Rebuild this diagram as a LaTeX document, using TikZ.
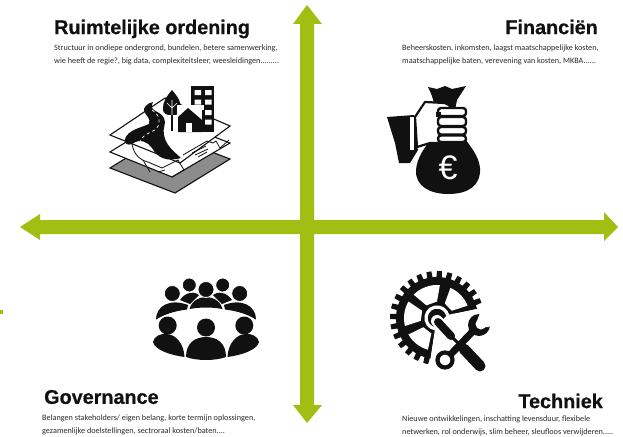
\documentclass[tikz,border=0pt]{standalone}
\usepackage{fontspec}
\setmainfont{Liberation Sans}
\newfontfamily\bodyfont{Carlito}
\newfontfamily\titlefont{Liberation Sans}[BoldFeatures={FakeBold=0.6}]
\definecolor{arrowgreen}{HTML}{A0BF12}
\definecolor{bodygrey}{HTML}{2A2A2A}
\definecolor{ink}{HTML}{111111}
\tikzset{
  greenarrow/.style={fill=arrowgreen,draw=none},
  headline/.style={font=\titlefont\fontsize{19.8}{21}\selectfont\bfseries,text=ink,inner sep=0pt},
  bodytext/.style={font=\bodyfont\fontsize{8.2}{13}\selectfont,text=bodygrey,inner sep=0pt,align=left},
  layerline/.style={draw=ink,line width=1.1pt,line join=miter},
  whitehalo/.style={draw=white,line cap=round},
  inkline/.style={draw=ink,line cap=round},
}
\begin{document}
\begin{tikzpicture}[x=1pt,y=-1pt]
\useasboundingbox (0,0) rectangle (623,436);
\fill[white] (0,0) rectangle (623,436);

% arrows
\fill[greenarrow] (300,220) -- (300,24) -- (293,24) -- (307,5) -- (322,24) -- (314,24) -- (314,220)
  -- (604,220) -- (604,212) -- (618,227) -- (604,241) -- (604,234)
  -- (314,234) -- (314,405) -- (322,405) -- (307,423) -- (293,405) -- (300,405) -- (300,234)
  -- (40,234) -- (40,240) -- (20,227) -- (40,214) -- (40,220) -- cycle;
\fill[greenarrow] (0,310) rectangle (3,314);

% texts
\node[headline,anchor=west] (t1) at (54,29) {Ruimtelijke ordening};
\node[bodytext,anchor=west] (b1) at (54,54.5) {Structuur in ondiepe ondergrond, bundelen, betere samenwerking,\\wie heeft de regie?, big data, complexiteitsleer, weesleidingen.........};
\node[headline,anchor=east] (t2) at (598,27) {Financiën};
\node[bodytext,anchor=west] (b2) at (402,54.5) {Beheerskosten, inkomsten, laagst maatschappelijke kosten,\\maatschappelijke baten, verevening van kosten, MKBA......};
\node[headline,anchor=west] (t3) at (44,397) {Governance};
\node[bodytext,anchor=west] (b3) at (42,425) {Belangen stakeholders/ eigen belang, korte termijn oplossingen,\\gezamenlijke doelstellingen, sectroraal kosten/baten....};
\node[headline,anchor=east] (t4) at (603,401) {Techniek};
\node[bodytext,anchor=west] (b4) at (402,425.5) {Nieuwe ontwikkelingen, inschatting levensduur, flexibele\\netwerken, rol onderwijs, slim beheer, sleufloos verwijderen.....};

% ---- layers icon
\filldraw[layerline,fill=black!45] (110,168) -- (175,193) -- (230,159) -- (165,134) -- cycle;
\filldraw[layerline,fill=white] (110,152) -- (172,177) -- (230,143) -- (165,118) -- cycle;
\filldraw[layerline,fill=white] (110,135) -- (180,163) -- (230,126) -- (165,98) -- cycle;
\draw[layerline,line width=0.8pt] (183,155) -- (207,141) -- (213,143) -- (216,141) -- (220,148) -- (229,140);
\draw[layerline,line width=0.8pt] (192,153) -- (206,146) (195,155) -- (208,149) (198,157) -- (207,152);
\draw[layerline,line width=0.8pt] (132,144) .. controls (134,155) and (140,160) .. (148,162)
  -- (162,168) -- (178,160) -- (184,170) -- (172,177);
\draw[layerline,line width=0.8pt] (143,160) -- (150,172) (165,170) -- (158,172);
\fill[ink] (153,102) .. controls (147,103) and (143,108) .. (144,111)
  .. controls (146,116) and (151,118) .. (149,124)
  .. controls (140,128) and (128,130) .. (125,139)
  .. controls (124,143) and (127,146) .. (132,144)
  .. controls (140,138) and (148,142) .. (152,148)
  .. controls (158,158) and (166,162) .. (181,158)
  .. controls (172,150) and (166,145) .. (164,135)
  .. controls (162,128) and (167,124) .. (164,118)
  .. controls (160,110) and (148,112) .. (153,102) -- cycle;
\draw[white,line width=0.7pt,dashed] (152,110) .. controls (162,116) and (160,126) .. (155,130)
  .. controls (146,134) and (140,138) .. (140,142);
% tree
\fill[ink] (172,90) .. controls (166,97) and (163,102) .. (163,108)
  .. controls (163,115) and (167,115) .. (172,115)
  .. controls (177,115) and (181,115) .. (181,108)
  .. controls (181,102) and (178,97) .. (172,90) -- cycle;
\fill[ink] (171.2,113) rectangle (173.2,131);
\draw[white,line width=0.6pt] (172,100) -- (172,115) (172,108) -- (167,103) (172,108) -- (177,103);
% building and house
\fill[ink] (191,86) rectangle (214,125);
\fill[white] (177,105) rectangle (204,132);
\fill[ink] (178,132) -- (178,117) -- (188,108) -- (202,120) -- (202,132) -- cycle;
\fill[white] (186,123) rectangle (191.5,132);
\fill[ink] (202,110) rectangle (214,132);
\fill[white] (194.5,90) rectangle (201,95) (205,90) rectangle (211.5,95)
  (194.5,99.5) rectangle (201,104.5) (205,99.5) rectangle (211.5,104.5)
  (205,110) rectangle (211.5,115) (205,119.5) rectangle (211.5,124.5);

% ---- money bag
\fill[ink] (432,138) .. controls (424,148) and (417,158) .. (416,170)
  .. controls (415,186) and (430,194) .. (448,194)
  .. controls (468,194) and (481,186) .. (480,168)
  .. controls (479,156) and (470,146) .. (463,136) -- cycle;
\fill[ink] (428,87) -- (437,89) -- (445,86) -- (452,89) -- (466,86) -- (457,100) -- (455,110) -- (434,104) .. controls (433,98) and (431,93) .. (428,87) -- cycle;
\fill[ink] (387,117) -- (414,115) -- (417,147) -- (418,150) -- (410,163) -- (399,163) -- (395,143) -- cycle;
\fill[white] (410,117) rectangle (414,150);
\filldraw[draw=ink,fill=white,line width=2.2pt,line join=round] (415,117) -- (425,102) -- (445,103)
  .. controls (450,105) and (452,108) .. (453,112) -- (448,143) -- (430,143) -- (417,147) -- cycle;
\foreach \fy/\fh in {108/8,117/9,127/7.5,135.5/6.5}{
  \filldraw[draw=ink,fill=white,line width=2.4pt,rounded corners=3pt] (438,\fy) rectangle +(28,\fh);
}
\fill[ink] (436,112) rectangle (441,117);
\node[font=\fontsize{34}{34}\selectfont,text=white,inner sep=0pt] (euro) at (448,168) {€};

% ---- meeting icon
\fill[ink] (156,319.5) .. controls (156,306) and (170,298) .. (188,305) -- (187,309.5) .. controls (175,311) and (165,314) .. (156,319.5) -- cycle;
\fill[ink] (256,319.5) .. controls (256,306) and (242,298) .. (224,305) -- (225,309.5) .. controls (237,311) and (247,314) .. (256,319.5) -- cycle;
\fill[ink] (189.5,309) .. controls (192,300) and (200,297) .. (206,297)
  .. controls (212,297) and (220,300) .. (222.5,309) .. controls (212,307) and (200,307) .. (189.5,309) -- cycle;
\fill[ink] (180,300) .. controls (185,292) and (195,291) .. (199,295) -- (190,304) -- cycle;
\fill[ink] (232,300) .. controls (227,292) and (217,291) .. (213,295) -- (222,304) -- cycle;
\foreach \hx/\hy/\hr in {172.3/293.5/8,189.3/285/7,222.7/285/7,239.7/293.5/8,206/289.5/8}{
  \filldraw[draw=white,fill=ink,line width=0.8pt] (\hx,\hy) circle (\hr);
}
\fill[ink] (153,342) .. controls (154,336) and (161,333.5) .. (166,334)
  .. controls (176,334) and (184,344) .. (184.5,357)
  .. controls (170,355) and (155,350) .. (153,342) -- cycle;
\fill[ink] (259,342) .. controls (258,336) and (251,333.5) .. (246,334)
  .. controls (236,334) and (228,344) .. (227.5,357)
  .. controls (242,355) and (257,350) .. (259,342) -- cycle;
\fill[ink] (186,357) .. controls (186,343) and (195,337) .. (206,337)
  .. controls (217,337) and (226,343) .. (226,357)
  .. controls (215,361) and (197,361) .. (186,357) -- cycle;
\foreach \hx/\hy/\hr in {167.7/325.5/9,206/327.5/9,244.3/325.5/9}{
  \fill[ink] (\hx,\hy) circle (\hr);
}

% ---- gear and tools
\begin{scope}[shift={(437,318)}]
  \fill[ink] (0,0) -- (99:41) arc[start angle=99,end angle=347,radius=41] -- cycle;
  \fill[ink] (0,0) circle (16.5);
  \foreach \a in {104,117,...,340}{
    \fill[ink] (\a-4:40) -- (\a-3:47) -- (\a+3:47) -- (\a+4:40) -- cycle;
  }
  \foreach \a/\w/\v in {128/22/18,188/22/18,250/25/20,316/22/18}{
    \fill[white] (\a-\v:16.5) -- (\a-\w:33) arc[start angle=\a-\w,end angle=\a+\w,radius=33] -- (\a+\v:16.5) -- cycle;
  }
  \fill[white] (-2,11) -- (99:44) -- (60:62) -- (-12:62) -- (10,-3) -- cycle;
  \draw[white,line width=3.2pt] (100:11) arc[start angle=100,end angle=345,radius=11];
\end{scope}
\draw[whitehalo,line width=13pt] (452,354) -- (476,328);
\draw[whitehalo,line width=12pt] (437,321) -- (452,337);
\draw[inkline,line width=8pt] (438,322) -- (451,336);
\draw[inkline,line width=3pt,line cap=butt] (451,336) -- (462,347);
\draw[whitehalo,line width=15pt] (464,349) -- (480,366);
\draw[inkline,line width=7pt] (452,353) -- (475,329);
\draw[inkline,line width=11pt] (464,349) -- (480,366);
\fill[ink] (479,325) circle (11);
\fill[white] (481,324) circle (5.5);
\fill[white] (477,321) -- (481,310) -- (496,318) -- (489,327) -- (484,327) -- cycle;
\draw[draw=ink,fill=white,line width=4.2pt] (445,360) circle (7.5);
\end{tikzpicture}
\end{document}
